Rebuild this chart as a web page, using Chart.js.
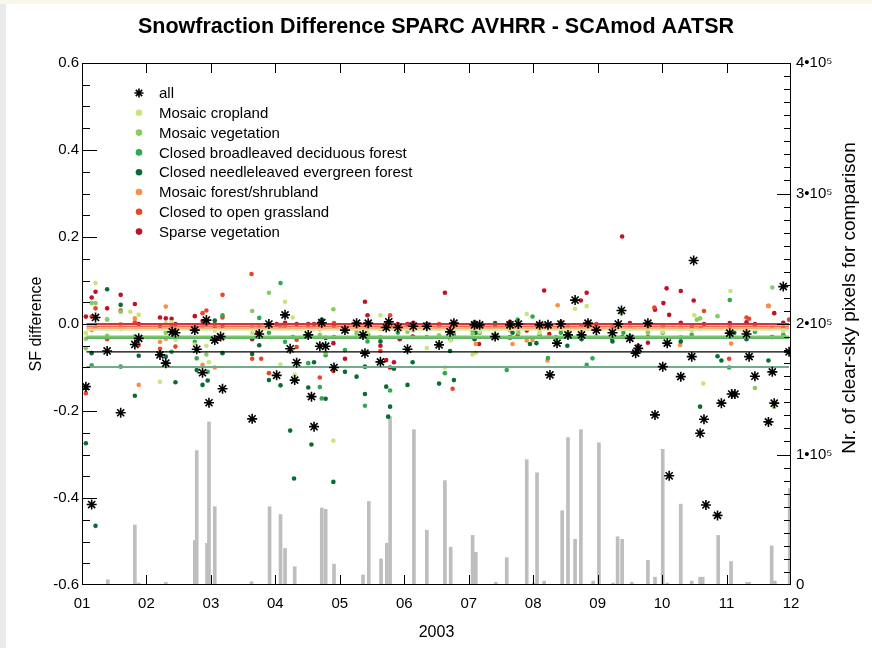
<!DOCTYPE html>
<html>
<head>
<meta charset="utf-8">
<title>Snowfraction Difference</title>
<script src="https://cdn.jsdelivr.net/npm/chart.js@4.4.0/dist/chart.umd.min.js"></script>
<style>
  html, body { margin: 0; padding: 0; background: #fff; }
  #wrap { position: relative; width: 872px; height: 648px; }
  #edgeLeft { position: absolute; left: 0; top: 0; width: 6px; height: 648px; background: #e8eaec; }
  #edgeTop { position: absolute; left: 0; top: 0; width: 872px; height: 4px; background: #faf6ec; }
</style>
</head>
<body>
<div id="wrap">
  <canvas id="sfChart" width="872" height="648"></canvas>
  <div id="edgeLeft"></div>
  <div id="edgeTop"></div>
</div>
<script>
// x values are months of 2003 (1 = 1 Jan ... 12 = 1 Dec)
const monthLabels = ["01", "02", "03", "04", "05", "06", "07", "08", "09", "10", "11", "12"];

const seriesNames = ["all", "Mosaic cropland", "Mosaic vegetation", "Closed broadleaved deciduous forest",
  "Closed needleleaved evergreen forest", "Mosaic forest/shrubland", "Closed to open grassland", "Sparse vegetation"];
const seriesColors = ["#000000", "#c6e67c", "#86cc5f", "#33a852", "#0b6b35", "#fc8d45", "#e8462b", "#bf1128"];
const meanColors = ["#000000", "#d2e8a6", "#7cc765", "#62b070", "#74aa8c", "#f3a06e", "#ee6a50", "#d4343f"];

// mean difference per series (horizontal lines)
const meanValues = [-0.064, -0.013, -0.029, -0.032, -0.099, -0.011, -0.006, 0.0];
const meanSpan = [1.07, 11.97];

const allPoints = [
  [1.06,-0.144],[1.15,-0.415],[1.21,0.015],[1.39,-0.062],[1.60,-0.204],[1.82,-0.047],[1.88,-0.033],
  [2.21,-0.071],[2.30,-0.090],[2.40,-0.018],[2.45,-0.020],[2.75,-0.014],[2.78,-0.058],[2.87,-0.112],
  [2.93,0.009],[2.97,-0.181],[3.06,-0.037],[3.15,-0.029],[3.18,-0.149],[3.64,-0.218],[3.75,-0.023],
  [3.90,0.0],[4.02,-0.118],[4.15,0.021],[4.23,-0.057],[4.30,-0.129],[4.33,-0.089],[4.51,-0.025],
  [4.56,-0.167],[4.60,-0.236],[4.69,-0.051],[4.72,0.003],[4.78,-0.051],[4.91,-0.100],[5.08,-0.014],
  [5.26,0.002],[5.36,-0.025],[5.39,-0.067],[5.44,0.002],[5.63,-0.087],[5.72,-0.008],[5.76,0.005],
  [5.90,-0.008],[6.05,-0.058],[6.14,-0.005],[6.35,-0.005],[6.54,-0.048],[6.71,-0.018],[6.77,0.002],
  [7.09,-0.002],[7.17,-0.002],[7.41,-0.029],[7.64,-0.002],[7.77,0.0],[8.10,-0.002],[8.23,-0.002],
  [8.26,-0.117],[8.37,-0.044],[8.43,0.0],[8.54,-0.025],[8.65,0.055],[8.75,-0.025],[8.85,0.002],
  [8.98,-0.014],[9.23,-0.020],[9.32,0.0],[9.37,0.031],[9.50,-0.033],[9.59,-0.067],[9.63,-0.056],
  [9.78,0.002],[9.89,-0.209],[10.01,-0.098],[10.08,-0.044],[10.11,-0.349],[10.29,-0.121],[10.46,-0.075],
  [10.49,0.146],[10.59,-0.251],[10.65,-0.219],[10.68,-0.416],[10.86,-0.440],[10.92,-0.182],[11.05,-0.021],
  [11.08,-0.161],[11.13,-0.161],[11.31,-0.023],[11.35,-0.075],[11.44,-0.120],[11.65,-0.225],[11.71,-0.110],
  [11.74,-0.182],[11.88,0.086],[11.97,-0.064]
];

const croplandPoints = [
  [1.06,-0.021],[1.21,0.094],[1.60,-0.012],[1.75,0.028],[1.88,0.021],[2.21,-0.133],[2.30,0.002],[2.39,0.004],
  [2.45,-0.036],[2.75,-0.047],[2.93,-0.050],[2.97,-0.088],[3.06,-0.015],[3.64,-0.020],[4.08,-0.093],[4.15,0.051],
  [4.27,0.015],[4.30,-0.117],[4.78,-0.050],[4.90,-0.268],[5.43,-0.020],[5.63,0.020],[6.35,-0.055],[6.63,-0.100],
  [6.72,-0.038],[7.06,-0.070],[7.11,-0.066],[7.90,0.023],[8.65,0.035],[8.83,0.041],[10.64,-0.137],[11.06,0.076],
  [4.60,-0.012],[5.08,-0.016],[5.26,-0.008],[5.90,-0.012],[6.77,-0.010],[7.17,-0.018],[7.64,-0.010],[8.10,-0.020],
  [8.54,-0.014],[9.23,-0.020],[9.50,-0.012],[10.01,-0.018],[10.29,-0.010],[10.46,-0.015],[10.50,0.020],[11.05,-0.020],
  [11.44,-0.012],[11.88,-0.016]
];

const mosaicVegPoints = [
  [1.06,-0.034],[1.06,-0.056],[1.15,0.048],[1.21,0.048],[1.39,0.010],[1.39,-0.027],[1.60,0.028],[2.30,-0.020],
  [2.93,-0.070],[3.64,0.030],[3.90,0.072],[4.51,-0.010],[4.78,-0.066],[4.90,0.034],[6.71,-0.020],[7.06,-0.022],
  [9.37,0.025],[10.54,0.010],[10.59,0.013],[10.86,0.018],[11.44,-0.147],[11.71,0.084],[11.74,-0.190],[11.88,-0.030],
  [4.69,-0.025],[5.26,-0.022],[5.63,-0.030],[6.05,-0.018],[6.54,-0.026],[7.41,-0.024],[7.77,-0.020],[8.23,-0.030],
  [8.54,-0.022],[8.98,-0.028],[9.78,-0.020],[10.29,-0.030],[11.31,-0.022]
];

const broadleavedPoints = [
  [1.15,-0.095],[1.60,-0.098],[1.82,-0.029],[2.21,-0.071],[2.39,-0.064],[2.75,-0.041],[2.78,-0.079],[2.95,-0.110],
  [3.18,0.020],[3.75,0.014],[3.90,-0.020],[4.08,0.094],[4.15,-0.041],[4.27,-0.030],[4.51,-0.090],[4.69,-0.145],
  [4.72,-0.171],[4.78,-0.072],[5.08,-0.060],[5.39,-0.188],[5.43,-0.040],[5.78,-0.153],[5.93,-0.005],[6.63,-0.113],
  [7.06,-0.015],[7.59,-0.106],[7.76,0.010],[7.99,0.017],[8.23,-0.078],[8.83,-0.094],[8.92,-0.079],[9.40,-0.020],
  [10.60,-0.010],[11.05,0.055],[11.04,-0.100],[11.70,-0.030],
  [4.91,-0.030],[5.44,-0.025],[5.90,-0.020],[6.35,-0.030],[6.77,-0.025],[7.17,-0.020],[7.64,-0.032],[8.10,-0.026],
  [8.43,-0.020],[8.75,-0.030],[9.23,-0.022],[9.50,-0.028],[10.01,-0.020],[10.46,-0.025],[11.44,-0.018],[11.88,-0.025]
];

const needleleavedPoints = [
  [1.06,-0.274],[1.15,-0.067],[1.21,-0.464],[1.39,0.080],[1.60,0.044],[1.82,-0.165],[1.88,-0.073],[2.21,-0.006],
  [2.30,-0.075],[2.45,-0.134],[2.78,-0.106],[2.87,-0.140],[2.95,-0.130],[3.06,0.008],[3.18,-0.067],[3.64,-0.069],
  [3.75,-0.049],[3.90,-0.129],[4.08,-0.141],[4.15,0.020],[4.23,-0.245],[4.29,-0.355],[4.51,-0.146],[4.56,-0.277],
  [4.60,-0.088],[4.72,0.010],[4.78,-0.172],[4.90,-0.363],[5.08,-0.110],[5.26,-0.121],[5.39,-0.098],[5.39,-0.161],
  [5.72,-0.144],[5.75,-0.213],[5.78,-0.190],[5.84,-0.103],[6.05,-0.140],[6.13,-0.088],[6.54,-0.137],[6.71,-0.062],
  [6.77,-0.129],[7.11,-0.020],[7.41,0.000],[7.68,-0.020],[7.95,-0.046],[8.05,-0.044],[8.35,-0.031],[8.53,-0.050],
  [9.38,-0.030],[10.46,-0.010],[10.59,-0.190],[10.86,-0.074],[10.92,-0.084],[11.12,-0.020],[11.65,-0.084],[11.88,-0.028],
  [5.63,-0.040],[6.14,-0.030],[7.09,-0.035],[7.64,-0.030],[8.75,-0.035],[9.23,-0.040],[9.78,-0.030],[10.29,-0.040],
  [11.31,-0.035],[11.71,-0.030]
];

const mosaicForestPoints = [
  [1.15,-0.014],[1.21,-0.008],[1.39,0.011],[1.60,0.000],[1.82,0.013],[1.88,-0.140],[2.21,-0.041],[2.30,0.040],
  [2.30,-0.034],[2.75,-0.005],[2.87,-0.005],[2.87,-0.094],[3.06,-0.030],[3.06,-0.100],[3.18,-0.033],[3.64,-0.005],
  [3.75,-0.005],[4.10,-0.010],[7.11,-0.046],[7.68,-0.046],[7.90,-0.038],[7.99,-0.037],[8.22,-0.084],[8.38,0.043],
  [10.28,-0.048],[11.07,-0.045],[11.65,0.041],
  [4.69,-0.012],[5.08,-0.008],[5.26,-0.015],[5.44,-0.005],[5.63,-0.012],[5.90,-0.010],[6.14,-0.014],[6.35,-0.006],
  [6.54,-0.011],[6.77,-0.016],[7.09,-0.012],[7.41,-0.010],[7.64,-0.014],[7.77,-0.006],[8.10,-0.012],[8.43,-0.015],
  [8.54,-0.008],[8.75,-0.013],[8.98,-0.009],[9.23,-0.014],[9.50,-0.011],[9.78,-0.015],[10.01,-0.008],[10.46,-0.012],
  [11.31,-0.014],[11.71,-0.009]
];

const grasslandPoints = [
  [1.06,-0.159],[1.15,0.017],[1.21,0.036],[1.39,-0.035],[1.60,0.031],[1.82,0.004],[1.88,-0.048],[2.21,-0.057],
  [2.39,-0.006],[2.45,-0.052],[2.87,0.025],[2.93,0.031],[2.93,0.008],[3.06,0.000],[3.18,0.067],[3.18,0.015],
  [3.63,0.115],[3.64,-0.080],[3.90,-0.004],[3.90,-0.113],[3.78,-0.080],[4.08,-0.005],[4.15,-0.004],[4.33,-0.036],
  [4.33,-0.053],[4.69,-0.123],[4.90,-0.108],[5.43,-0.010],[5.63,-0.062],[5.78,0.020],[6.75,-0.149],[6.71,-0.010],
  [9.88,0.038],[10.08,-0.046],[10.65,0.030],[11.31,0.015],[11.35,0.012],[11.65,0.042],[11.04,-0.080],
  [4.91,0.002],[5.08,-0.010],[5.26,-0.004],[5.90,-0.006],[6.14,-0.002],[6.35,-0.008],[6.54,0.000],[7.09,-0.004],
  [7.17,-0.010],[7.41,-0.002],[7.64,-0.006],[7.77,-0.012],[8.10,-0.004],[8.23,-0.008],[8.43,0.002],[8.54,-0.006],
  [8.75,-0.003],[8.85,-0.010],[8.98,0.000],[9.23,-0.007],[9.32,-0.002],[9.50,-0.010],[9.78,-0.005],[10.01,-0.003],
  [10.29,-0.008],[10.46,-0.004],[11.05,-0.006],[11.44,-0.003],[11.88,-0.008],[11.97,0.010]
];

const sparsePoints = [
  [1.06,0.017],[1.15,0.061],[1.21,0.074],[1.39,0.036],[1.60,0.067],[1.82,0.046],[1.88,0.000],[2.21,0.015],
  [2.30,0.013],[2.39,0.012],[2.45,0.000],[2.75,0.018],[2.87,0.007],[2.93,0.000],[3.06,-0.010],[3.18,-0.005],
  [3.64,-0.035],[3.72,-0.020],[4.02,0.000],[4.15,0.003],[4.33,0.000],[4.51,0.000],[4.60,0.000],[4.78,-0.032],
  [4.90,-0.044],[5.08,-0.080],[5.39,0.051],[5.43,0.020],[5.63,-0.050],[5.72,-0.083],[5.78,-0.100],[5.84,-0.088],
  [5.93,-0.035],[6.05,0.000],[6.13,-0.029],[6.63,0.072],[6.72,-0.035],[7.16,-0.046],[7.76,-0.027],[7.90,-0.015],
  [8.17,0.077],[8.25,-0.023],[8.74,0.054],[8.83,0.072],[9.22,-0.033],[9.38,0.201],[9.63,-0.050],[9.78,-0.043],
  [9.89,0.033],[10.02,0.048],[10.07,0.082],[10.11,0.021],[10.29,0.076],[10.49,0.054],[11.74,0.025],
  [4.69,0.004],[4.91,-0.004],[5.26,0.000],[5.44,0.003],[5.90,0.000],[6.14,0.003],[6.35,0.000],[6.54,-0.004],
  [6.77,0.002],[7.09,0.004],[7.41,0.002],[7.64,0.005],[8.10,0.000],[8.43,0.004],[8.54,-0.010],[8.85,0.003],
  [8.98,-0.002],[9.32,0.000],[9.50,0.002],[10.29,0.003],[10.65,0.000],[11.05,0.002],[11.31,0.004],[11.44,0.000],
  [11.88,0.003]
];

// number of clear-sky pixels used for the comparison (right axis)
const pixelCounts = [
  [1.40,4000],[1.82,46000],[1.88,1500],[2.30,2000],[2.75,34000],[2.78,103000],[2.94,32000],[2.97,125000],
  [3.06,60000],[3.63,2500],[3.91,60000],[4.08,54000],[4.15,28000],[4.30,14000],[4.72,59000],[4.78,58000],
  [4.91,16000],[5.36,7700],[5.45,64000],[5.64,20000],[5.73,32000],[5.78,129000],[6.15,119000],[6.35,42000],
  [6.63,80000],[6.72,29000],[7.06,38000],[7.11,25000],[7.42,2000],[7.59,21000],[7.90,96000],[8.01,1500],
  [8.06,86000],[8.17,3000],[8.45,57000],[8.54,113000],[8.65,35000],[8.74,119000],[8.93,3000],[9.02,109000],
  [9.24,1500],[9.31,37000],[9.38,35000],[9.53,2000],[9.78,19000],[9.89,6000],[10.01,104000],[10.08,1500],
  [10.29,62000],[10.46,3000],[10.59,6000],[10.63,6000],[10.87,38000],[11.07,18000],[11.32,2000],[11.35,2000],
  [11.70,30000],[11.75,3000],[11.98,74000]
];

const categoryPoints = [croplandPoints, mosaicVegPoints, broadleavedPoints, needleleavedPoints,
  mosaicForestPoints, grasslandPoints, sparsePoints];

const toXY = (arr) => arr.map(([x, y]) => ({ x: x, y: y }));

const datasets = [];
datasets.push({
  type: "scatter", label: seriesNames[0], data: toXY(allPoints),
  pointStyle: "star", pointRadius: 5, borderColor: "#000", backgroundColor: "#000",
  borderWidth: 1.6, order: 0
});
meanValues.forEach((v, i) => {
  datasets.push({
    type: "line", label: "mean " + seriesNames[i],
    data: [{ x: meanSpan[0], y: v }, { x: meanSpan[1], y: v }],
    borderColor: meanColors[i], borderWidth: i === 0 ? 1.3 : 2, pointRadius: 0, order: 1
  });
});
categoryPoints.forEach((pts, i) => {
  datasets.push({
    type: "scatter", label: seriesNames[i + 1], data: toXY(pts),
    pointRadius: 2.3, borderWidth: 0, backgroundColor: seriesColors[i + 1], order: 2
  });
});
datasets.push({
  type: "bar", label: "pixels", data: toXY(pixelCounts), yAxisID: "y2",
  backgroundColor: "#bebebe", barThickness: 3, order: 3
});

// box, inward ticks, legend and right title drawn on top
const framePlugin = {
  id: "framePlugin",
  afterDatasetsDraw(chart) {
    const { ctx, chartArea: a, scales } = chart;
    ctx.save();
    ctx.strokeStyle = "#000";
    ctx.lineWidth = 1;
    ctx.strokeRect(a.left + 0.5, a.top + 0.5, a.right - a.left - 1, a.bottom - a.top - 1);
    ctx.beginPath();
    for (let m = 2; m <= 11; m++) {
      const x = Math.round(scales.x.getPixelForValue(m)) + 0.5;
      ctx.moveTo(x, a.bottom); ctx.lineTo(x, a.bottom - 10);
      ctx.moveTo(x, a.top); ctx.lineTo(x, a.top + 10);
    }
    for (let i = 1; i < 24; i++) {
      const y = Math.round(scales.y.getPixelForValue(-0.6 + i * 0.05)) + 0.5;
      const len = i % 4 === 0 ? 15 : 8;
      ctx.moveTo(a.left, y); ctx.lineTo(a.left + len, y);
    }
    for (let i = 1; i < 40; i++) {
      const y = Math.round(scales.y2.getPixelForValue(i * 10000)) + 0.5;
      const len = i % 10 === 0 ? 14 : 7;
      ctx.moveTo(a.right, y); ctx.lineTo(a.right - len, y);
    }
    ctx.stroke();

    // legend inside the plot
    ctx.font = "15px 'Liberation Sans', Arial, sans-serif";
    ctx.textBaseline = "middle";
    ctx.textAlign = "left";
    seriesNames.forEach((name, i) => {
      const y = 93 + i * 19.8;
      const x = 139;
      if (i === 0) {
        ctx.strokeStyle = "#000";
        ctx.lineWidth = 1.6;
        Chart.helpers.drawPoint(ctx, { pointStyle: "star", radius: 4.5, borderWidth: 1.6, rotation: 0 }, x, y);
      } else {
        ctx.fillStyle = seriesColors[i];
        ctx.beginPath();
        ctx.arc(x, y, 3.3, 0, Math.PI * 2);
        ctx.fill();
      }
      ctx.fillStyle = "#000";
      ctx.fillText(name, 159, y + 1);
    });

    // right axis title, reading bottom to top
    ctx.translate(850, 298);
    ctx.rotate(-Math.PI / 2);
    ctx.textAlign = "center";
    ctx.font = "19px 'Liberation Sans', Arial, sans-serif";
    ctx.fillText("Nr. of clear-sky pixels for comparison", 0, 0);
    ctx.restore();
  }
};

const tickFont = { family: "'Liberation Sans', Arial, sans-serif", size: 15 };

new Chart(document.getElementById("sfChart"), {
  type: "scatter",
  data: { datasets: datasets },
  options: {
    responsive: false,
    devicePixelRatio: 1,
    animation: false,
    events: [],
    layout: { padding: 0 },
    plugins: {
      legend: { display: false },
      tooltip: { enabled: false },
      title: {
        display: true,
        text: "Snowfraction Difference SPARC AVHRR - SCAmod AATSR",
        color: "#000",
        font: { family: "'Liberation Sans', Arial, sans-serif", size: 21.5, weight: "bold", lineHeight: 1.2 },
        padding: { top: 14, bottom: 23.2 }
      }
    },
    scales: {
      x: {
        type: "linear", position: "bottom", min: 1, max: 12, offset: false,
        grid: { display: false, drawTicks: false }, border: { display: false },
        ticks: {
          stepSize: 1, autoSkip: false, maxRotation: 0, color: "#000", font: tickFont, padding: 10,
          callback: (v) => monthLabels[v - 1]
        },
        title: { display: true, text: "2003", color: "#000", font: { family: tickFont.family, size: 16 }, padding: { top: 0, bottom: 6 } },
        afterFit: (s) => { s.height = 63; }
      },
      y: {
        position: "left", min: -0.6, max: 0.6,
        grid: { display: false, drawTicks: false }, border: { display: false },
        ticks: {
          stepSize: 0.2, color: "#000", font: tickFont, padding: 3,
          callback: (v) => (Math.abs(v) < 1e-9 ? "0.0" : v.toFixed(1))
        },
        title: { display: true, text: "SF difference", color: "#000", font: { family: tickFont.family, size: 16 }, padding: { top: 27, bottom: 0 } },
        afterFit: (s) => { s.width = 82; }
      },
      y2: {
        position: "right", min: 0, max: 400000,
        grid: { display: false, drawTicks: false }, border: { display: false },
        ticks: {
          stepSize: 100000, color: "#000", font: tickFont, padding: 5,
          callback: (v) => (v === 0 ? "0" : (v / 100000) + "\u202210\u2075")
        },
        afterFit: (s) => { s.width = 81; }
      }
    }
  },
  plugins: [framePlugin]
});
</script>
</body>
</html>
